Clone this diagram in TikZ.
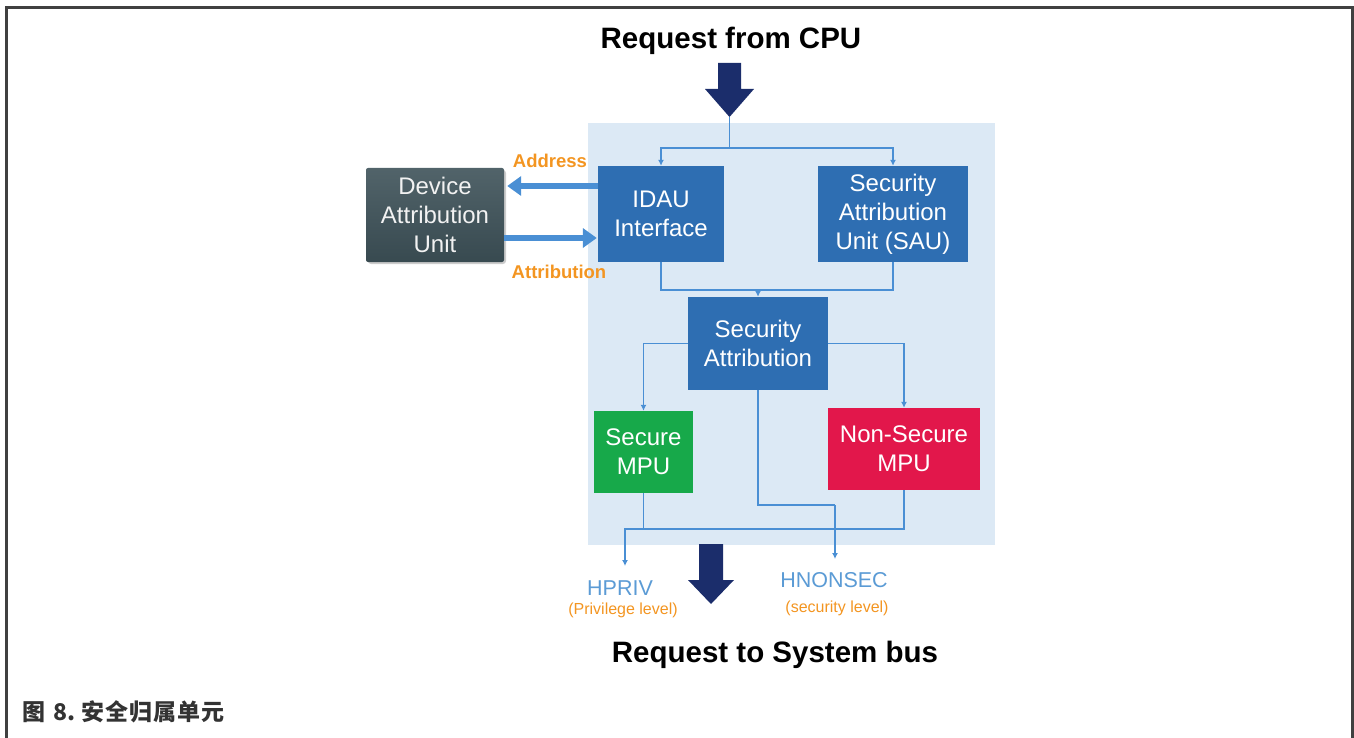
\documentclass[tikz,border=0pt]{standalone}
\usepackage{fontspec}
\setmainfont{Liberation Sans}
\newfontfamily\cjk{Noto Sans CJK SC}
\usetikzlibrary{arrows.meta}

\definecolor{panelbg}{HTML}{DCE9F5}
\definecolor{unitblue}{HTML}{2E6EB2}
\definecolor{dauslate}{HTML}{3E5259}
\definecolor{secgreen}{HTML}{17A94A}
\definecolor{nsred}{HTML}{E2174B}
\definecolor{wire}{HTML}{4A8FD4}
\definecolor{navy}{HTML}{1B2D6B}
\definecolor{labelorange}{HTML}{F39521}
\definecolor{sigblue}{HTML}{5B9BD5}
\definecolor{framegray}{HTML}{404040}

\tikzset{
  unit/.style={text=white, align=center, inner sep=0pt,
    font=\fontsize{24}{29}\selectfont},
  wireline/.style={draw=wire, line width=1.6pt},
  wirearrow/.style={wireline, -{Latex[length=6pt,width=6pt]}},
  fatarrow/.style={draw=wire, line width=5.5pt, -{Triangle[length=14pt,width=19pt]}},
  olabel/.style={text=labelorange, font=\fontsize{18.5}{20}\selectfont\bfseries},
  siglabel/.style={text=sigblue, font=\fontsize{21.5}{24}\selectfont},
  sublabel/.style={text=labelorange, font=\fontsize{16}{18}\selectfont},
  heading/.style={font=\fontsize{29.5}{32}\selectfont\bfseries},
  bigarrow/.style={fill=navy, draw=none}
}

\begin{document}
\begin{tikzpicture}[x=1pt, y=-1pt]
  \useasboundingbox (0,0) rectangle (1354,738);

  % outer frame, open at the bottom
  \draw[framegray, line width=3pt] (6,739) -- (6,8) -- (1352,8) -- (1352,739);

  % light panel holding the attribution logic
  \fill[panelbg] (588,123) rectangle (995,545);

  % headings
  \node[heading] (cpu) at (731,41) {Request from CPU};
  \node[heading] (bus) at (775,655) {Request to System bus};

  % big navy arrows
  \fill[bigarrow] (718,63) -- (741,63) -- (741,89) -- (754,89) -- (729.5,117)
                 -- (705,89) -- (718,89) -- cycle;
  \coordinate (cputip) at (729.5,117);
  \fill[bigarrow] (699,544) -- (723,544) -- (723,580) -- (734,580) -- (711,604)
                 -- (688,580) -- (699,580) -- cycle;

  % units
  \node[unit, fill=unitblue, minimum width=126pt, minimum height=96pt]
    (idau) at (661,214) {IDAU\\Interface};
  \node[unit, fill=unitblue, minimum width=150pt, minimum height=96pt]
    (sau) at (893,214) {Security\\Attribution\\Unit (SAU)};
  \fill[black!20, rounded corners=3pt] (368,170) rectangle (506,264);
  \node[unit, rounded corners=2pt, top color=dauslate!90!white,
        bottom color=dauslate!90!black, text=white!90!gray,
        minimum width=138pt, minimum height=94pt]
    (dau) at (435,215) {Device\\Attribution\\Unit};
  \node[unit, fill=unitblue, minimum width=140pt, minimum height=93pt]
    (sa) at (758,343.5) {Security\\Attribution};
  \node[unit, fill=secgreen, minimum width=99pt, minimum height=82pt]
    (smpu) at (643.5,452) {Secure\\MPU};
  \node[unit, fill=nsred, minimum width=152pt, minimum height=82pt]
    (nsmpu) at (904,449) {Non-Secure\\MPU};

  % request fans out to IDAU and SAU
  \coordinate (split) at (729.5,148);
  \draw[wireline] (cputip) -- (split);
  \draw[wirearrow] (split) -| (idau.north);
  \draw[wirearrow] (split) -| (sau.north);

  % IDAU <-> device attribution unit
  \coordinate (addrrow) at (0,186);
  \coordinate (attrrow) at (0,238);
  \draw[fatarrow] (idau.west |- addrrow) -- ([xshift=3pt]dau.east |- addrrow);
  \draw[fatarrow] (dau.east |- attrrow) -- ([xshift=-1pt]idau.west |- attrrow);
  \node[olabel] (addr) at (550,161) {Address};
  \node[olabel] (attr) at (559,272) {Attribution};

  % IDAU and SAU merge into security attribution
  \coordinate (merge) at (758,290);
  \draw[wireline] (idau.south) |- (merge) -| (sau.south);
  \draw[wirearrow] (merge) -- (sa.north);

  % security attribution to the MPUs
  \draw[wirearrow] (sa.west) -| (smpu.north);
  \draw[wirearrow] (sa.east) -| (nsmpu.north);

  % HNONSEC path
  \coordinate (jog) at (835,505);
  \coordinate (hnstip) at (835,559);
  \draw[wireline] (sa.south) |- (jog);
  \draw[wirearrow] (jog) -- (hnstip);

  % HPRIV path
  \coordinate (privbus) at (643.5,529);
  \coordinate (privtip) at (625,566);
  \draw[wireline] (smpu.south) -- (privbus);
  \draw[wireline] (nsmpu.south) |- (privbus);
  \draw[wirearrow] (privbus) -| (privtip);

  % signal labels
  \node[siglabel] (hpriv) at (620,588) {HPRIV};
  \node[sublabel] (hprivsub) at (623,610) {(Privilege level)};
  \node[siglabel] (hnonsec) at (834,580) {HNONSEC};
  \node[sublabel] (hnonsecsub) at (837,608) {(security level)};

  % caption
  \node[anchor=west, text=black!80, inner sep=0pt,
        font=\cjk\fontsize{23}{24}\selectfont\bfseries]
    (caption) at (22,712) {图\hspace{8pt}8.\hspace{6pt}安\hspace{1pt}全\hspace{1pt}归\hspace{1pt}属\hspace{1pt}单\hspace{1pt}元};
\end{tikzpicture}
\end{document}
